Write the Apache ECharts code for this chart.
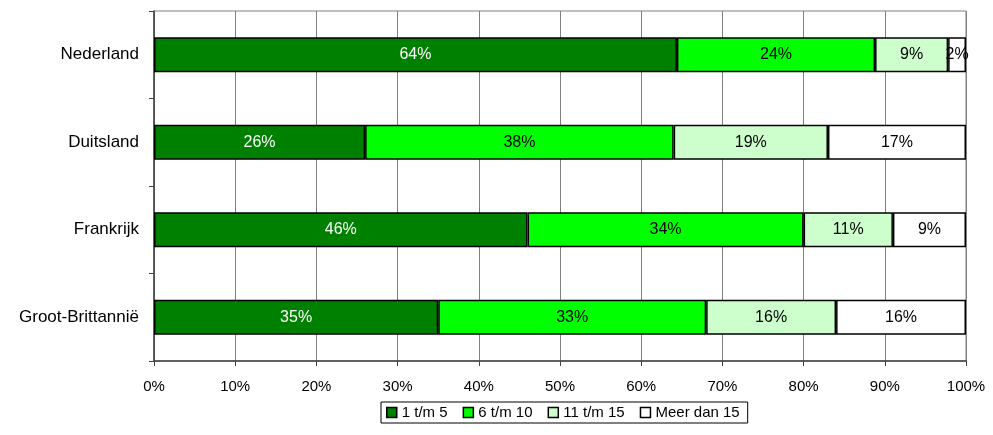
<!DOCTYPE html>
<html>
<head>
<meta charset="utf-8">
<script src="https://cdn.jsdelivr.net/npm/echarts@6/dist/echarts.min.js"></script>
<style>
  html, body { margin: 0; padding: 0; background: #fff; }
  #chart { width: 993px; height: 435px; }
</style>
</head>
<body>
<div id="chart"></div>
<script>
// Countries, top to bottom
const countries = ['Nederland', 'Duitsland', 'Frankrijk', 'Groot-Brittannië'];

// Share per size class (percent of total, per country)
const klasse1tm5   = [64.4, 26, 46, 35];
const klasse6tm10  = [24.4, 38, 34, 33];
const klasse11tm15 = [9.0, 19, 11, 16];
const meerDan15    = [2.2, 17, 9, 16];

const seriesNames = ['1 t/m 5', '6 t/m 10', '11 t/m 15', 'Meer dan 15'];
const seriesData = [klasse1tm5, klasse6tm10, klasse11tm15, meerDan15];
const fills = ['#008000', '#00FF00', '#CCFFCC', '#FFFFFF'];
const labelColors = ['#FFFFFF', '#000000', '#000000', '#000000'];

const xTicks = { min: 0, max: 100, interval: 10 };

const font = 'Arial, "Liberation Sans", sans-serif';

const chart = echarts.init(document.getElementById('chart'), null, { renderer: 'canvas' });

chart.setOption({
  animation: false,
  textStyle: { fontFamily: font },
  grid: {
    left: 154, right: 27, top: 11, bottom: 74,
    show: true, borderColor: '#808080', borderWidth: 1
  },
  xAxis: {
    type: 'value',
    min: xTicks.min, max: xTicks.max, interval: xTicks.interval,
    axisLine: { show: true, lineStyle: { color: '#404040', width: 1.5 } },
    axisTick: { show: true, length: 5, lineStyle: { color: '#404040' } },
    axisLabel: { formatter: '{value}%', color: '#000', fontSize: 15, margin: 18, fontFamily: font },
    splitLine: { show: true, lineStyle: { color: '#808080', width: 1 } }
  },
  yAxis: {
    type: 'category',
    data: countries,
    inverse: true,
    axisLine: { show: true, lineStyle: { color: '#404040', width: 1.5 } },
    axisTick: { show: true, length: 5, lineStyle: { color: '#404040' } },
    axisLabel: { color: '#000', fontSize: 17, margin: 15, fontFamily: font },
    splitLine: { show: false }
  },
  legend: {
    bottom: 12,
    left: 381,
    icon: 'rect',
    itemWidth: 10,
    itemHeight: 10,
    itemGap: 15,
    padding: [3, 8, 3, 5],
    borderColor: '#000',
    borderWidth: 1,
    textStyle: { color: '#000', fontSize: 15, fontFamily: font },
    data: seriesNames.map(n => ({ name: n, itemStyle: { borderColor: '#000', borderWidth: 1.5 } }))
  },
  series: seriesData.map((vals, i) => ({
    name: seriesNames[i],
    type: 'bar',
    stack: 'totaal',
    barCategoryGap: '60%',
    data: vals,
    itemStyle: { color: fills[i], borderColor: '#000', borderWidth: 1.5 },
    label: {
      show: true,
      position: 'inside',
      color: labelColors[i],
      fontSize: 16,
      fontFamily: font,
      formatter: p => Math.round(p.value) + '%'
    }
  }))
});
</script>
</body>
</html>
